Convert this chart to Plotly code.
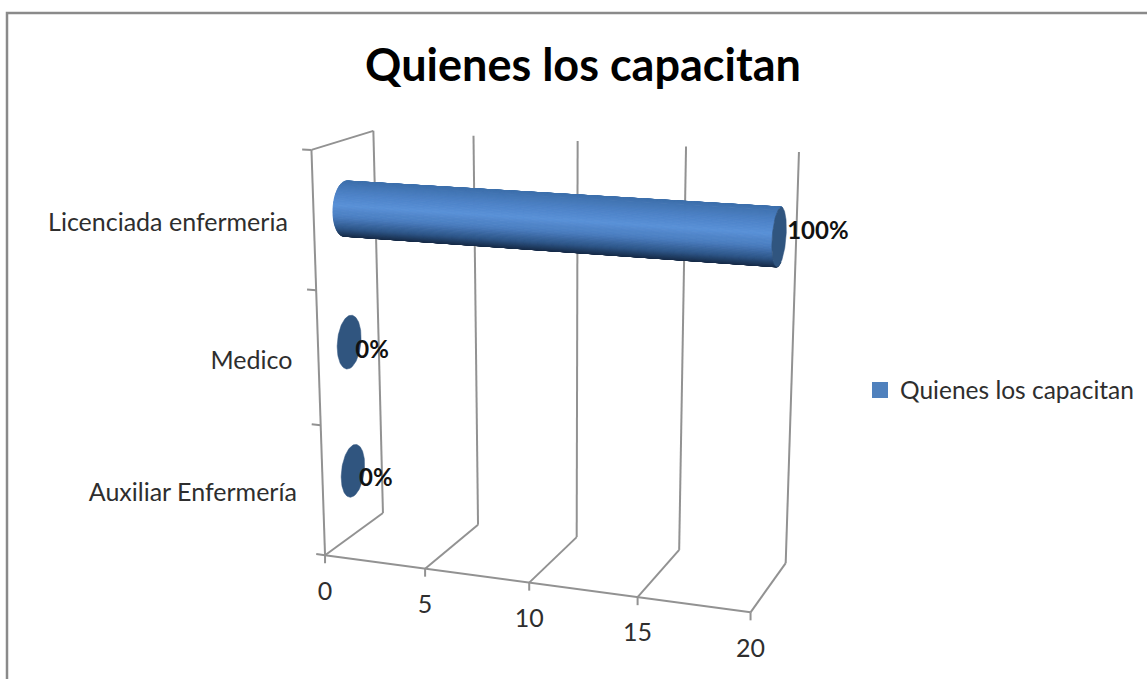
import numpy as np
import plotly.graph_objects as go

# ---- data ----
title_text = "Quienes los capacitan"
series_name = "Quienes los capacitan"
categories = ["Auxiliar Enfermería", "Medico", "Licenciada enfermeria"]
values = [0, 0, 20]
bar_labels = ["0%", "0%", "100%"]
value_ticks = [0, 5, 10, 15, 20]

# ---- projection of the 3-D chart box: (value, height, depth) -> picture ----
calib = [
    ((0, 0, 0), (325, 555)), ((5, 0, 0), (425, 568)), ((10, 0, 0), (528, 584)),
    ((15, 0, 0), (638, 597)), ((20, 0, 0), (751, 612)),
    ((0, 0, 1), (383, 513)), ((5, 0, 1), (478, 525)), ((10, 0, 1), (578, 537)),
    ((15, 0, 1), (679, 550)), ((20, 0, 1), (785, 563)),
    ((0, 3, 0), (312, 150)), ((0, 3, 1), (373, 132)), ((5, 3, 1), (473, 134)),
    ((10, 3, 1), (578, 141)), ((15, 3, 1), (686, 147)), ((20, 3, 1), (799, 152)),
]
A, b = [], []
for (v, h, d), (px, py) in calib:
    A.append([v, h, d, 1, 0, 0, 0, 0, -px * v, -px * h, -px * d]); b.append(px)
    A.append([0, 0, 0, 0, v, h, d, 1, -py * v, -py * h, -py * d]); b.append(py)
P = np.append(np.linalg.lstsq(np.array(A, float), np.array(b, float), rcond=None)[0], 1.0).reshape(3, 4)


def project(v, h, d):
    q = P @ np.array([v, h, d, 1.0])
    return q[0] / q[2], q[1] / q[2]


LINE = "#929292"


def segment(a, b, color=LINE, width=2):
    (x0, y0), (x1, y1) = project(*a), project(*b)
    fig.add_trace(go.Scatter(x=[x0, x1], y=[y0, y1], mode="lines", showlegend=False, hoverinfo="skip",
                             line=dict(color=color, width=width)))


fig = go.Figure()

# walls, gridlines, axis lines
for t in value_ticks:
    segment((t, 0, 0), (t, 0, 1))
    segment((t, 0, 1), (t, 3, 1))
segment((0, 0, 0), (20, 0, 0))
segment((0, 0, 0), (0, 3, 0))
segment((0, 3, 0), (0, 3, 1))
for h in range(4):
    segment((-0.45, h, 0), (0, h, 0))
for t in value_ticks:
    x0, y0 = project(t, 0, 0)
    fig.add_trace(go.Scatter(x=[x0, x0], y=[y0, y0 + 8], mode="lines", showlegend=False, hoverinfo="skip",
                             line=dict(color=LINE, width=2)))

# cylinders
R_H, R_D = 0.2, 0.2
stops = [(-1.0, (62, 112, 172)), (-0.5, (78, 131, 200)), (-0.1, (90, 146, 216)), (0.3, (74, 124, 190)),
         (0.7, (46, 86, 136)), (1.0, (24, 44, 72))]


def shade(u):
    us = [s[0] for s in stops]
    c = [np.interp(u, us, [s[1][i] for s in stops]) for i in range(3)]
    return "rgb(%d,%d,%d)" % tuple(c)


n = 120
ang = np.linspace(-np.pi, np.pi, n + 1)
for i, (val, lab) in enumerate(zip(values, bar_labels)):
    hc = i + 0.5
    if val > 0:
        mids = (ang[:-1] + ang[1:]) / 2
        order = np.argsort(-np.sin(mids))
        ys = np.array([project(val / 2, hc + R_H * np.cos(a), 0.5 + R_D * np.sin(a))[1] for a in mids])
        lo, hi = ys.min(), ys.max()
        for k in order:
            if np.sin(mids[k]) > 0.35:
                continue
            a0, a1 = ang[k], ang[k + 1]
            pts = [project(0, hc + R_H * np.cos(a0), 0.5 + R_D * np.sin(a0)),
                   project(val, hc + R_H * np.cos(a0), 0.5 + R_D * np.sin(a0)),
                   project(val, hc + R_H * np.cos(a1), 0.5 + R_D * np.sin(a1)),
                   project(0, hc + R_H * np.cos(a1), 0.5 + R_D * np.sin(a1))]
            col = shade(2 * (ys[k] - lo) / (hi - lo) - 1)
            fig.add_trace(go.Scatter(x=[p[0] for p in pts] + [pts[0][0]], y=[p[1] for p in pts] + [pts[0][1]],
                                     mode="lines", fill="toself", fillcolor=col, showlegend=False,
                                     hoverinfo="skip", line=dict(color=col, width=1)))
    cap = [project(val, hc + R_H * np.cos(a), 0.5 + R_D * np.sin(a)) for a in ang]
    fig.add_trace(go.Scatter(x=[p[0] for p in cap], y=[p[1] for p in cap], mode="lines", fill="toself",
                             fillcolor="#30557f", line=dict(color="#30557f", width=0.5),
                             showlegend=False, hoverinfo="skip"))

# data labels, drawn above every bar
for i, (val, lab) in enumerate(zip(values, bar_labels)):
    cx, cy = project(val, i + 0.5, 0.5)
    fig.add_trace(go.Scatter(x=[cx + 8 if val else cx + 6], y=[cy - 4 if val else cy + 9.5], mode="text",
                             text=[lab], textposition="middle right",
                             textfont=dict(family="Lato", size=24, color="#111111", weight="bold"),
                             showlegend=False, hoverinfo="skip"))

# category labels
for i, cat in enumerate(categories):
    x0, y0 = project(0, i + 0.5, 0)
    fig.add_trace(go.Scatter(x=[x0 - 26], y=[y0 + 4], mode="text", text=[cat], textposition="middle left",
                             textfont=dict(family="Lato", size=25, color="#2e2e2e"),
                             showlegend=False, hoverinfo="skip"))
# value labels
for t in value_ticks:
    x0, y0 = project(t, 0, 0)
    fig.add_trace(go.Scatter(x=[x0], y=[y0 + 38], mode="text", text=[str(t)], textposition="middle center",
                             textfont=dict(family="Lato", size=25, color="#2e2e2e"),
                             showlegend=False, hoverinfo="skip"))

# legend entry
fig.add_trace(go.Scatter(x=[None], y=[None], mode="markers", name=series_name,
                         marker=dict(symbol="square", size=16, color="#4f81bd")))

fig.add_shape(type="rect", x0=7, y0=13, x1=1300, y1=900, line=dict(color="#8a8a8a", width=2.5), layer="below")

fig.update_layout(
    width=1147, height=679, margin=dict(l=0, r=0, t=0, b=0), plot_bgcolor="white", paper_bgcolor="white",
    title=dict(text="<b>%s</b>" % title_text, x=583 / 1147, xanchor="center", y=1 - 65 / 679, yanchor="middle",
               font=dict(family="Lato", size=45, color="#000000")),
    legend=dict(x=860 / 1147, y=1 - 390 / 679, xanchor="left", yanchor="middle", bgcolor="rgba(0,0,0,0)",
                font=dict(family="Lato", size=24.5, color="#2e2e2e"), itemwidth=30),
    xaxis=dict(range=[0, 1147], visible=False, fixedrange=True),
    yaxis=dict(range=[679, 0], visible=False, fixedrange=True),
)
fig.write_html("out.html", post_script="document.body.style.margin='0';document.body.style.overflow='hidden';",
               config={"displayModeBar": False})
